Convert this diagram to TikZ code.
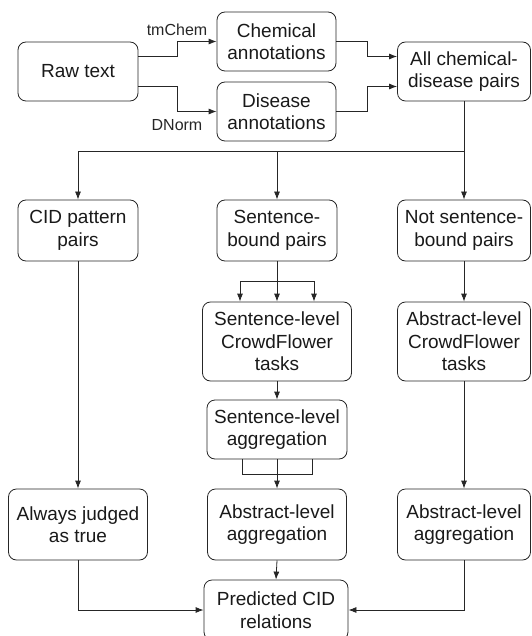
\documentclass[tikz,border=0pt]{standalone}
\usepackage{fontspec}
\setmainfont{Liberation Sans}
\usetikzlibrary{arrows.meta,calc}
\begin{document}
\begin{tikzpicture}[x=1pt,y=-1pt,
  box/.style={draw=black!85, line width=0.8pt, rounded corners=8pt, align=center,
    inner sep=0pt, font=\fontsize{19}{22.5}\selectfont, text=black!90},
  lbl/.style={font=\fontsize{16}{18}\selectfont, text=black!85, inner sep=0pt},
  arr/.style={draw=black!85, line width=0.8pt, -{Latex[length=8pt,width=6pt]}},
  ln/.style={draw=black!85, line width=0.8pt}
]
\useasboundingbox (0,0) rectangle (531,636);
% row 1
\node[box, minimum width=120pt, minimum height=59pt] (raw) at (78,71.5) {Raw text};
\node[box, minimum width=119pt, minimum height=59pt] (chem) at (276.5,41.5) {Chemical\\annotations};
\node[box, minimum width=119pt, minimum height=59pt] (dis) at (276.5,111.5) {Disease\\annotations};
\node[box, minimum width=133pt, minimum height=59pt] (all) at (464,71.5) {All chemical-\\disease pairs};
\node[lbl] (tm) at (177,30) {tmChem};
\node[lbl] (dn) at (177,125) {DNorm};
% row 2
\node[box, minimum width=120pt, minimum height=61pt] (cid) at (78,230.5) {CID pattern\\pairs};
\node[box, minimum width=120pt, minimum height=61pt] (sb) at (277,230.5) {Sentence-\\bound pairs};
\node[box, minimum width=133pt, minimum height=61pt] (nsb) at (464,230.5) {Not sentence-\\bound pairs};
% row 3
\node[box, minimum width=149pt, minimum height=79pt] (scf) at (277,341.5) {Sentence-level\\CrowdFlower\\tasks};
\node[box, minimum width=133pt, minimum height=79pt] (acf) at (464,341.5) {Abstract-level\\CrowdFlower\\tasks};
\node[box, minimum width=140pt, minimum height=59pt] (sagg) at (277,429.5) {Sentence-level\\aggregation};
% row 4
\node[box, minimum width=139pt, minimum height=71pt] (always) at (78,524.5) {Always judged\\as true};
\node[box, minimum width=139pt, minimum height=71pt] (aagg) at (277,524.5) {Abstract-level\\aggregation};
\node[box, minimum width=133pt, minimum height=71pt] (ragg) at (464,524.5) {Abstract-level\\aggregation};
\node[box, minimum width=144pt, minimum height=60pt] (pred) at (276,610) {Predicted CID\\relations};
% connectors row 1
\draw[arr] ([yshift=15pt]raw.east) -- ++(39,0) |- (chem.west);
\draw[arr] ([yshift=-15pt]raw.east) -- ++(39,0) |- (dis.west);
\draw[arr] (chem.east) -- ++(31,0) |- ([yshift=15pt]all.west);
\draw[arr] (dis.east) -- ++(31,0) |- ([yshift=-15pt]all.west);
% split
\coordinate (split) at (all.south |- 0,151);
\draw[ln] (all.south) -- (split);
\draw[arr] (split) -| (cid.north);
\draw[arr] (split) -| (sb.north);
\draw[arr] (split) -- (nsb.north);
% middle column
\coordinate (br) at (sb.south |- 0,281);
\draw[ln] (sb.south) -- (br);
\draw[arr] (br) -- (scf.north);
\draw[arr] (br) -| ([xshift=-37pt]scf.north);
\draw[arr] (br) -| ([xshift=37pt]scf.north);
\draw[arr] (scf.south) -- (sagg.north);
\draw[ln] ([xshift=-35pt]sagg.south) -- ++(0,15) -- ++(70,0) -- ([xshift=35pt]sagg.south);
\draw[arr] (sagg.south) -- (aagg.north);
% side columns
\draw[arr] (cid.south) -- (always.north);
\draw[arr] (nsb.south) -- (acf.north);
\draw[arr] (acf.south) -- (ragg.north);
% bottom
\draw[arr] (always.south) |- (pred.west);
\draw[arr] (aagg.south) -- (pred.north);
\draw[arr] (ragg.south) |- (pred.east);
\end{tikzpicture}
\end{document}
